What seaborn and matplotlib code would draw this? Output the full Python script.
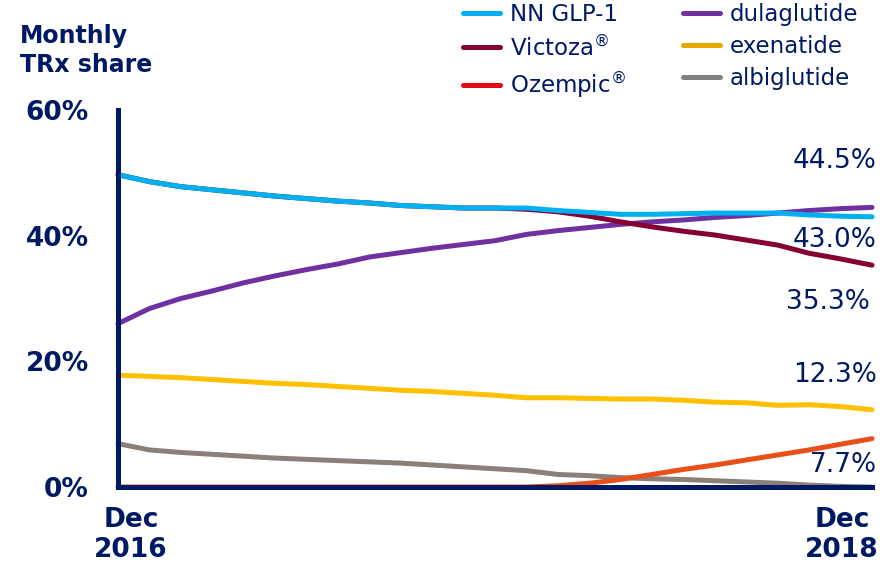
import matplotlib
matplotlib.use("Agg")
import matplotlib.pyplot as plt
from matplotlib.lines import Line2D
import pandas as pd
import seaborn as sns

# monthly index, Dec 2016 (0) ... Dec 2018 (24)
months = list(range(25))

nn_glp1 = [49.7, 48.6, 47.8, 47.3, 46.8, 46.3, 45.9, 45.5, 45.2, 44.8, 44.6, 44.4, 44.4,
           44.4, 44.0, 43.7, 43.4, 43.4, 43.5, 43.6, 43.6, 43.6, 43.3, 43.1, 43.0]
victoza = [49.7, 48.6, 47.8, 47.3, 46.8, 46.3, 45.9, 45.5, 45.2, 44.8, 44.6, 44.4, 44.4,
           44.2, 43.8, 43.1, 42.2, 41.4, 40.7, 40.1, 39.3, 38.5, 37.2, 36.3, 35.3]
ozempic = [0, 0, 0, 0, 0, 0, 0, 0, 0, 0, 0, 0, 0,
           0, 0.2, 0.6, 1.2, 2.0, 2.8, 3.5, 4.3, 5.1, 5.9, 6.8, 7.7]
dulaglutide = [26.0, 28.4, 30.0, 31.2, 32.5, 33.6, 34.6, 35.5, 36.6, 37.3, 38.0, 38.6, 39.2,
               40.2, 40.8, 41.3, 41.8, 42.2, 42.5, 42.9, 43.2, 43.6, 44.0, 44.3, 44.5]
exenatide = [17.8, 17.6, 17.4, 17.1, 16.8, 16.5, 16.3, 16.0, 15.7, 15.4, 15.2, 14.9, 14.6,
             14.2, 14.2, 14.1, 14.0, 14.0, 13.8, 13.5, 13.4, 13.0, 13.1, 12.8, 12.3]
albiglutide = [6.9, 5.9, 5.5, 5.2, 4.9, 4.6, 4.4, 4.2, 4.0, 3.8, 3.5, 3.2, 2.9,
               2.6, 2.0, 1.8, 1.5, 1.3, 1.2, 1.0, 0.8, 0.6, 0.3, 0.1, 0.0]

legend_names = ["NN GLP-1", "Victoza$^{\\circledR}$", "Ozempic$^{\\circledR}$",
                "dulaglutide", "exenatide", "albiglutide"]
series = {"albiglutide": albiglutide, "exenatide": exenatide, "dulaglutide": dulaglutide,
          "Victoza": victoza, "Ozempic": ozempic, "NN GLP-1": nn_glp1}

navy = "#001965"
line_colors = {"NN GLP-1": "#00B0F0", "Victoza": "#850033", "Ozempic": "#E8501A",
               "dulaglutide": "#7030A0", "exenatide": "#FFC000", "albiglutide": "#8A8079"}
legend_colors = ["#00B0F0", "#850033", "#E30613", "#7030A0", "#E8A800", "#808080"]

df = pd.concat([pd.DataFrame({"month": months, "share": v, "product": k})
                for k, v in series.items()])

sns.set_style("white")
plt.rcParams["font.family"] = ["DejaVu Sans"]

fig = plt.figure(figsize=(8.94, 5.65), dpi=100)
ax = fig.add_axes([118 / 894, 78 / 565, 754 / 894, 377 / 565])

sns.lineplot(data=df, x="month", y="share", hue="product", hue_order=list(series.keys()),
             palette=line_colors, linewidth=3.6, legend=False, ax=ax,
             solid_capstyle="round", clip_on=False)

ax.set_xlim(0, 24)
ax.set_ylim(0, 60)
ax.set_xlabel("")
ax.set_ylabel("")
ax.set_xticks([])
ax.set_yticks([0, 20, 40, 60])
ax.set_yticklabels([f"{t}%" for t in [0, 20, 40, 60]])
ax.tick_params(axis="y", length=7, width=4, color=navy, pad=14,
               labelsize=19, labelcolor=navy)
for lbl in ax.get_yticklabels():
    lbl.set_fontweight("bold")

for s in ["top", "right"]:
    ax.spines[s].set_visible(False)
for s in ["left", "bottom"]:
    ax.spines[s].set_color(navy)
    ax.spines[s].set_linewidth(3.6)
    ax.spines[s].set_zorder(5)

# end-of-line value labels
end_labels = [(dulaglutide[-1], 46, 5), (nn_glp1[-1], -23, 5), (victoza[-1], -37, -2),
              (exenatide[-1], 35, 5), (ozempic[-1], -26, 5)]
for val, dy, dx in end_labels:
    ax.annotate(f"{val:.1f}%", xy=(24, val), xytext=(dx, dy), textcoords="offset pixels",
                ha="right", va="center", fontsize=19, color=navy)

fig.text(20 / 894, 1 - 24 / 565, "Monthly\nTRx share", ha="left", va="top",
         fontsize=17, fontweight="bold", color=navy, linespacing=1.25)
fig.text(131 / 894, 1 - 507 / 565, "Dec\n2016", ha="center", va="top",
         fontsize=19, fontweight="bold", color=navy, linespacing=1.2)
fig.text(842 / 894, 1 - 507 / 565, "Dec\n2018", ha="center", va="top",
         fontsize=19, fontweight="bold", color=navy, linespacing=1.2)

handles = [Line2D([], [], color=c, linewidth=3.6) for c in legend_colors]
fig.legend(handles, legend_names, loc="upper left", bbox_to_anchor=(463 / 894, 1 - 3 / 565),
           ncol=2, frameon=False, fontsize=16.5, labelcolor=navy, handlelength=1.6,
           handletextpad=0.45, columnspacing=2.5, labelspacing=0.4, borderpad=0.0,
           borderaxespad=0.0)

fig.savefig("out.png", dpi=100)
